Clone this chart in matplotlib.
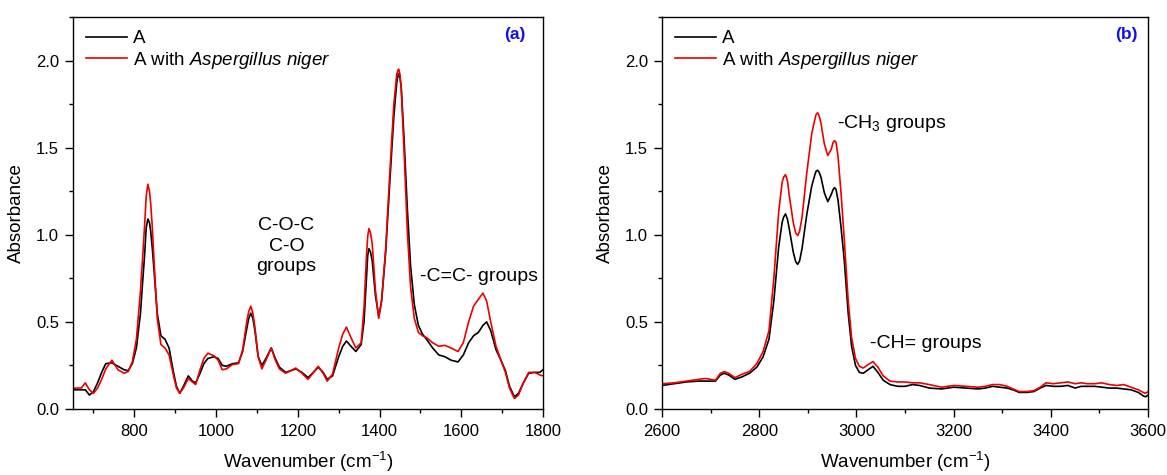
import matplotlib
matplotlib.use("Agg")
import matplotlib.pyplot as plt
from matplotlib.ticker import MultipleLocator

plt.rcParams['font.family'] = ['Liberation Sans', 'DejaVu Sans']
plt.rcParams['mathtext.fontset'] = 'custom'
plt.rcParams['mathtext.rm'] = 'Liberation Sans'
plt.rcParams['mathtext.it'] = 'Liberation Sans:italic'

# panel (a): 650-1800 cm-1
wn_a = [650, 670, 680, 690, 700, 710, 720, 730, 745, 760, 775, 785, 795, 805, 815, 820, 825, 829, 833, 837,
        840, 844, 848, 856, 865, 875, 885, 895, 903, 911, 920, 932, 942, 950, 960, 970, 980, 995, 1005, 1015,
        1025, 1040, 1055, 1065, 1075, 1080, 1085, 1090, 1095, 1103, 1112, 1122, 1135, 1145, 1155, 1170, 1183, 1195, 1210, 1225,
        1238, 1250, 1262, 1272, 1285, 1300, 1310, 1319, 1330, 1342, 1355, 1362, 1368, 1371, 1374, 1378, 1382, 1390, 1398, 1405,
        1415, 1425, 1435, 1442, 1445, 1447, 1450, 1453, 1460, 1468, 1476, 1485, 1495, 1505, 1515, 1530, 1545, 1560, 1575, 1592,
        1605, 1618, 1630, 1642, 1653, 1662, 1672, 1685, 1697, 1708, 1718, 1730, 1740, 1752, 1765, 1780, 1792, 1800]
a_plain = [0.11, 0.11, 0.11, 0.08, 0.10, 0.15, 0.21, 0.26, 0.265, 0.245, 0.225, 0.22, 0.26, 0.35, 0.55, 0.72, 0.88, 1.04, 1.09, 1.07,
           1.02, 0.92, 0.80, 0.55, 0.42, 0.40, 0.35, 0.22, 0.13, 0.09, 0.13, 0.19, 0.16, 0.15, 0.20, 0.26, 0.29, 0.30, 0.29, 0.25,
           0.245, 0.26, 0.265, 0.33, 0.46, 0.52, 0.55, 0.52, 0.45, 0.30, 0.25, 0.29, 0.35, 0.29, 0.24, 0.21, 0.22, 0.23, 0.21, 0.18,
           0.21, 0.24, 0.21, 0.17, 0.19, 0.30, 0.36, 0.39, 0.36, 0.33, 0.37, 0.50, 0.75, 0.88, 0.92, 0.90, 0.85, 0.65, 0.53, 0.62,
           0.90, 1.30, 1.68, 1.87, 1.915, 1.925, 1.90, 1.85, 1.55, 1.15, 0.82, 0.60, 0.48, 0.43, 0.40, 0.35, 0.31, 0.30, 0.28, 0.27,
           0.31, 0.38, 0.42, 0.44, 0.48, 0.50, 0.45, 0.34, 0.28, 0.22, 0.13, 0.07, 0.09, 0.15, 0.205, 0.21, 0.21, 0.225]
a_niger = [0.12, 0.12, 0.15, 0.11, 0.09, 0.12, 0.17, 0.23, 0.28, 0.225, 0.205, 0.215, 0.27, 0.40, 0.68, 0.86, 1.05, 1.22, 1.29, 1.25,
           1.18, 1.04, 0.86, 0.52, 0.37, 0.35, 0.31, 0.20, 0.12, 0.09, 0.12, 0.175, 0.155, 0.14, 0.22, 0.29, 0.32, 0.305, 0.28, 0.225,
           0.23, 0.255, 0.26, 0.34, 0.50, 0.56, 0.59, 0.55, 0.47, 0.30, 0.23, 0.28, 0.35, 0.28, 0.23, 0.205, 0.22, 0.235, 0.205, 0.17,
           0.21, 0.245, 0.205, 0.16, 0.20, 0.35, 0.43, 0.47, 0.41, 0.35, 0.38, 0.58, 0.88, 0.99, 1.035, 1.01, 0.95, 0.68, 0.52, 0.62,
           0.92, 1.35, 1.75, 1.92, 1.945, 1.95, 1.92, 1.84, 1.48, 1.02, 0.70, 0.52, 0.44, 0.42, 0.41, 0.38, 0.36, 0.365, 0.35, 0.33,
           0.38, 0.50, 0.59, 0.63, 0.665, 0.62, 0.50, 0.36, 0.28, 0.21, 0.12, 0.06, 0.08, 0.15, 0.21, 0.21, 0.195, 0.19]

# panel (b): 2600-3600 cm-1
wn_b = [2600, 2625, 2650, 2675, 2690, 2700, 2710, 2720, 2728, 2737, 2750, 2765, 2780, 2795, 2808, 2820, 2830, 2840, 2847, 2850,
        2854, 2858, 2862, 2870, 2875, 2879, 2883, 2888, 2898, 2908, 2915, 2917, 2920, 2923, 2927, 2934, 2941, 2948, 2952, 2955,
        2958, 2962, 2968, 2975, 2983, 2990, 2998, 3006, 3014, 3024, 3034, 3044, 3055, 3069, 3085, 3100, 3115, 3130, 3150, 3175,
        3200, 3225, 3250, 3265, 3280, 3295, 3310, 3322, 3335, 3350, 3365, 3378, 3390, 3405, 3420, 3435, 3450, 3462, 3475, 3490,
        3505, 3520, 3535, 3550, 3565, 3580, 3590, 3595, 3600]
b_plain = [0.135, 0.145, 0.155, 0.16, 0.16, 0.16, 0.16, 0.195, 0.205, 0.195, 0.17, 0.185, 0.205, 0.24, 0.30, 0.40, 0.62, 0.93, 1.07, 1.10,
           1.12, 1.09, 1.03, 0.90, 0.845, 0.83, 0.85, 0.92, 1.12, 1.28, 1.35, 1.365, 1.37, 1.36, 1.33, 1.24, 1.19, 1.23, 1.26, 1.27,
           1.26, 1.20, 1.05, 0.85, 0.55, 0.36, 0.25, 0.21, 0.205, 0.225, 0.245, 0.21, 0.165, 0.14, 0.13, 0.13, 0.14, 0.135, 0.12, 0.115,
           0.125, 0.12, 0.115, 0.12, 0.13, 0.125, 0.12, 0.11, 0.095, 0.095, 0.10, 0.12, 0.135, 0.13, 0.13, 0.135, 0.12, 0.13, 0.13, 0.13,
           0.125, 0.12, 0.12, 0.115, 0.11, 0.095, 0.075, 0.07, 0.08]
b_niger = [0.145, 0.15, 0.16, 0.17, 0.175, 0.17, 0.165, 0.205, 0.215, 0.205, 0.18, 0.20, 0.215, 0.26, 0.33, 0.45, 0.75, 1.13, 1.30, 1.33,
           1.345, 1.31, 1.22, 1.07, 1.01, 0.995, 1.02, 1.10, 1.36, 1.58, 1.67, 1.69, 1.70, 1.685, 1.64, 1.52, 1.455, 1.49, 1.53, 1.54,
           1.53, 1.45, 1.25, 0.97, 0.62, 0.41, 0.29, 0.245, 0.235, 0.255, 0.272, 0.24, 0.19, 0.16, 0.155, 0.155, 0.15, 0.15, 0.14, 0.125,
           0.135, 0.13, 0.125, 0.13, 0.14, 0.14, 0.13, 0.115, 0.10, 0.10, 0.105, 0.125, 0.15, 0.145, 0.15, 0.155, 0.145, 0.15, 0.145, 0.145,
           0.15, 0.14, 0.135, 0.14, 0.125, 0.11, 0.095, 0.09, 0.10]

labels = ['A', 'A with $\\it{Aspergillus\\ niger}$']

fig = plt.figure(figsize=(11.67, 4.75), dpi=100)
ax1 = fig.add_axes([0.0626, 0.139, 0.4027, 0.8253])
ax2 = fig.add_axes([0.5673, 0.139, 0.4165, 0.8253])


def style(ax, xlim, major, minor, tag, tag_x):
    ax.set_xlim(*xlim)
    ax.set_ylim(0, 2.25)
    ax.xaxis.set_major_locator(MultipleLocator(major))
    ax.xaxis.set_minor_locator(MultipleLocator(minor))
    ax.yaxis.set_minor_locator(MultipleLocator(0.25))
    ax.set_yticks([0.0, 0.5, 1.0, 1.5, 2.0])
    ax.set_yticklabels(['0.0', '0.5', '1.0', '1.5', '2.0'])
    ax.tick_params(which='major', direction='out', length=6, width=1, labelsize=12, pad=4)
    ax.tick_params(which='minor', direction='out', length=3, width=1)
    ax.tick_params(axis='x', which='major', pad=5)
    for s in ax.spines.values():
        s.set_linewidth(1.0)
    ax.set_xlabel('Wavenumber (cm$^{-1}$)', fontsize=13.5, labelpad=8)
    ax.set_ylabel('Absorbance', fontsize=13.5, labelpad=8)
    ax.text(tag_x, 0.955, tag, transform=ax.transAxes, color='#1010f0', fontsize=12.5,
            fontweight='bold', ha='center', va='center')
    ax.legend(loc='upper left', frameon=False, fontsize=13.5, handlelength=2.2,
              handletextpad=0.3, labelspacing=0.15, borderaxespad=0.3, bbox_to_anchor=(0.0, 1.0))


ax1.plot(wn_a, a_plain, color='black', lw=1.2, label=labels[0])
ax1.plot(wn_a, a_niger, color='#ee0000', lw=1.2, label=labels[1])
style(ax1, (650, 1800), 200, 100, '(a)', 0.94)
ax1.text(1172, 0.935, 'C-O-C\nC-O\ngroups', fontsize=14, ha='center', va='center', linespacing=1.25)
ax1.text(1500, 0.76, '-C=C- groups', fontsize=14, ha='left', va='center')

ax2.plot(wn_b, b_plain, color='black', lw=1.2, label=labels[0])
ax2.plot(wn_b, b_niger, color='#ee0000', lw=1.2, label=labels[1])
style(ax2, (2600, 3600), 200, 100, '(b)', 0.955)
ax2.text(2960, 1.61, '-CH$_3$ groups', fontsize=14, ha='left', va='baseline')
ax2.text(3027, 0.375, '-CH= groups', fontsize=14, ha='left', va='center')

fig.savefig('out.png', dpi=100)
